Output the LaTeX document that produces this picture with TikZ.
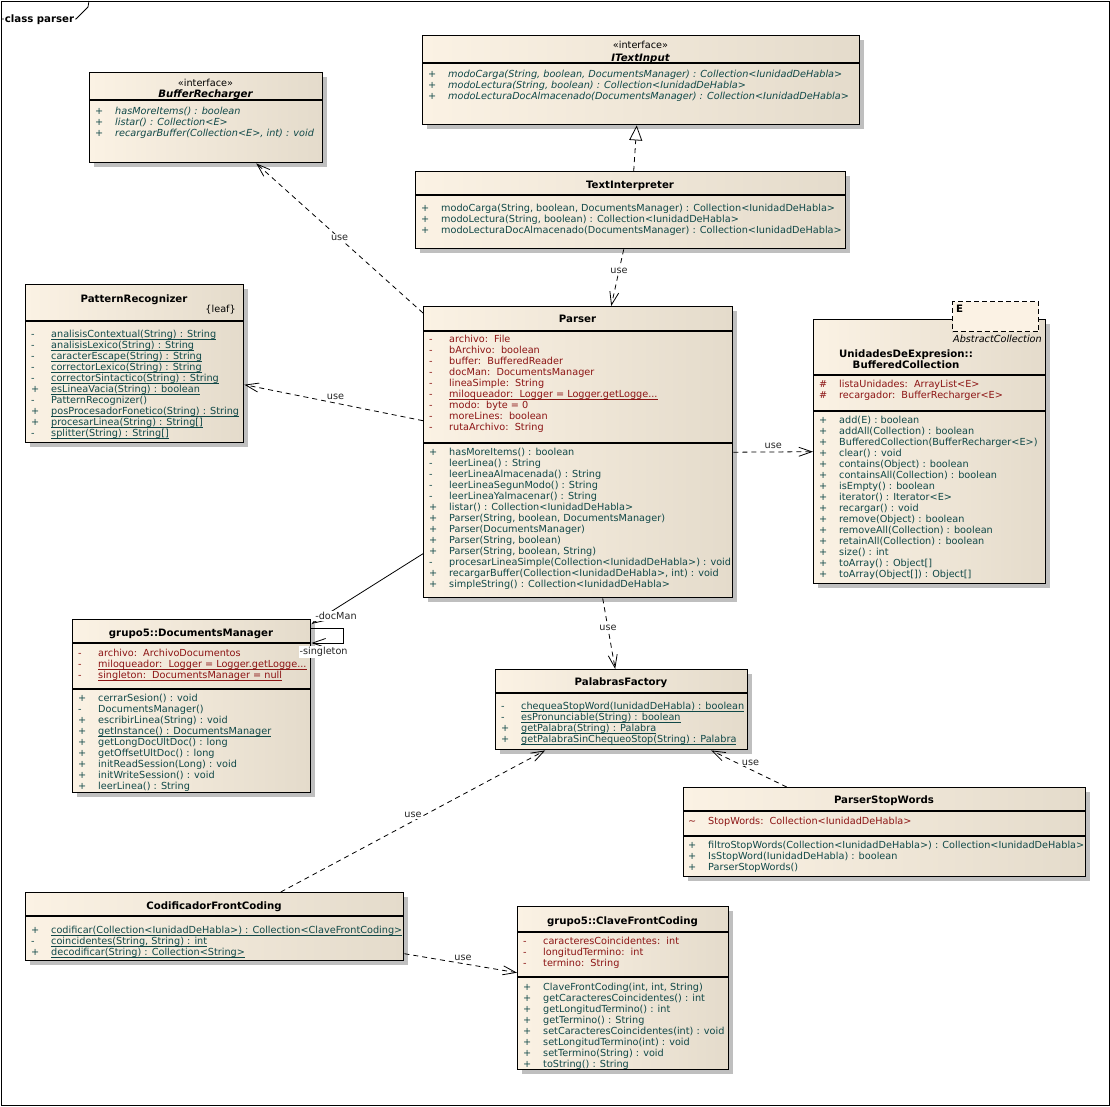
\documentclass[tikz,border=0pt]{standalone}
\usepackage{fontspec}
\setmainfont{DejaVu Sans}
\usetikzlibrary{arrows.meta,shadows}
\definecolor{attrcol}{RGB}{140,20,20}
\definecolor{opcol}{RGB}{16,72,72}
\definecolor{boxleft}{RGB}{251,242,228}
\definecolor{boxright}{RGB}{228,219,203}
\newcommand{\umlfont}{\fontsize{9.7}{11}\selectfont}
\newcommand{\headfont}{\fontsize{10.2}{11}\selectfont}
\newcommand{\vis}[1]{\makebox[20pt][l]{#1}}
\newcommand{\stat}[1]{\sbox0{#1}\rlap{\rule[-1.9pt]{\wd0}{0.7pt}}\usebox0}
\newcommand{\rows}[1]{\begin{tabular}{@{}l@{}}#1\end{tabular}}

\begin{document}
\begin{tikzpicture}[x=1pt, y=-1pt, font=\umlfont] %y grows downwards, like the screenshot
\tikzstyle{classbox} = [draw, line width=1.4pt, anchor=north west, inner sep=0pt, left color=boxleft, right color=boxright, drop shadow={shadow xshift=4pt, shadow yshift=-4pt, opacity=1, fill=black!25}]
\tikzstyle{sep} = [line width=1.2pt]
\tikzstyle{title} = [font=\headfont\bfseries, inner sep=0pt, anchor=base]
\tikzstyle{attrs} = [anchor=north west, inner sep=0pt, text=attrcol]
\tikzstyle{ops} = [anchor=north west, inner sep=0pt, text=opcol]
\tikzstyle{usedep} = [line width=0.8pt, dash pattern=on 5pt off 4pt, -{Straight Barb[length=13pt,width=9pt]}]
\tikzstyle{realize} = [line width=0.8pt, dash pattern=on 5pt off 4pt, -{Triangle[length=15pt,width=13pt,fill=white]}]
\tikzstyle{assoc} = [line width=0.8pt, -{Straight Barb[length=13pt,width=9pt]}]
\tikzstyle{uselbl} = [fill=white, inner sep=1pt, text=black!85]

\useasboundingbox (0,0) rectangle (1110,1106);
\draw[line width=1pt] (1,1) rectangle (1109,1105);
\draw[line width=0.8pt] (1,19) -- (76,19) -- (88,7) -- (89,1);
\node[title, fill=white, inner sep=1pt] (frame) at (39.5,22) {class parser};

% BufferRecharger
\node[classbox, minimum width=233pt, minimum height=90pt] (bufrech) at (89,72) {};
\draw[sep] (bufrech.west |- 0,100) -- (bufrech.east |- 0,100);
\node[title, font=\umlfont] (bufrech-st) at (205.5,86.5) {«interface»};
\node[title, font=\headfont\bfseries\itshape] (bufrech-t) at (205.5,97.5) {BufferRecharger};
\node[ops, font=\umlfont\itshape] (bufrech-ops) at (95,107) {\rows{
\vis{+}hasMoreItems() : boolean\\
\vis{+}listar() : Collection<E>\\
\vis{+}recargarBuffer(Collection<E>, int) : void}};

% ITextInput
\node[classbox, minimum width=437pt, minimum height=89pt] (itext) at (422,35) {};
\draw[sep] (itext.west |- 0,63) -- (itext.east |- 0,63);
\node[title, font=\umlfont] (itext-st) at (640.5,48.5) {«interface»};
\node[title, font=\headfont\bfseries\itshape] (itext-t) at (640.5,61) {ITextInput};
\node[ops, font=\umlfont\itshape] (itext-ops) at (428,70) {\rows{
\vis{+}modoCarga(String, boolean, DocumentsManager) : Collection<IunidadDeHabla>\\
\vis{+}modoLectura(String, boolean) : Collection<IunidadDeHabla>\\
\vis{+}modoLecturaDocAlmacenado(DocumentsManager) : Collection<IunidadDeHabla>}};

% TextInterpreter
\node[classbox, minimum width=430pt, minimum height=77pt] (textint) at (415,171) {};
\draw[sep] (textint.west |- 0,195) -- (textint.east |- 0,195);
\node[title] (textint-t) at (630,188.5) {TextInterpreter};
\node[ops] (textint-ops) at (421,204) {\rows{
\vis{+}modoCarga(String, boolean, DocumentsManager) : Collection<IunidadDeHabla>\\
\vis{+}modoLectura(String, boolean) : Collection<IunidadDeHabla>\\
\vis{+}modoLecturaDocAlmacenado(DocumentsManager) : Collection<IunidadDeHabla>}};

% PatternRecognizer
\node[classbox, minimum width=218pt, minimum height=158pt] (patrec) at (25,284) {};
\draw[sep] (patrec.west |- 0,321) -- (patrec.east |- 0,321);
\node[title] (patrec-t) at (134,302) {PatternRecognizer};
\node[title, font=\umlfont, anchor=base east] (patrec-leaf) at (236,312) {\{leaf\}};
\node[ops] (patrec-ops) at (31,330) {\rows{
\vis{-}\stat{analisisContextual(String) : String}\\
\vis{-}\stat{analisisLexico(String) : String}\\
\vis{-}\stat{caracterEscape(String) : String}\\
\vis{-}\stat{correctorLexico(String) : String}\\
\vis{-}\stat{correctorSintactico(String) : String}\\
\vis{+}\stat{esLineaVacia(String) : boolean}\\
\vis{-}PatternRecognizer()\\
\vis{+}\stat{posProcesadorFonetico(String) : String}\\
\vis{+}\stat{procesarLinea(String) : String[]}\\
\vis{-}\stat{splitter(String) : String[]}}};

% Parser
\node[classbox, minimum width=309pt, minimum height=291pt] (parser) at (423,306) {};
\draw[sep] (parser.west |- 0,331) -- (parser.east |- 0,331);
\draw[sep] (parser.west |- 0,443) -- (parser.east |- 0,443);
\node[title] (parser-t) at (577.5,322.5) {Parser};
\node[attrs] (parser-attrs) at (429,335) {\rows{
\vis{-}archivo:\ \ File\\
\vis{-}bArchivo:\ \ boolean\\
\vis{-}buffer:\ \ BufferedReader\\
\vis{-}docMan:\ \ DocumentsManager\\
\vis{-}lineaSimple:\ \ String\\
\vis{-}\stat{miloqueador:\ \ Logger = Logger.getLogge...}\\
\vis{-}modo:\ \ byte = 0\\
\vis{-}moreLines:\ \ boolean\\
\vis{-}rutaArchivo:\ \ String}};
\node[ops] (parser-ops) at (429,448) {\rows{
\vis{+}hasMoreItems() : boolean\\
\vis{-}leerLinea() : String\\
\vis{-}leerLineaAlmacenada() : String\\
\vis{-}leerLineaSegunModo() : String\\
\vis{-}leerLineaYalmacenar() : String\\
\vis{+}listar() : Collection<IunidadDeHabla>\\
\vis{+}Parser(String, boolean, DocumentsManager)\\
\vis{+}Parser(DocumentsManager)\\
\vis{+}Parser(String, boolean)\\
\vis{+}Parser(String, boolean, String)\\
\vis{-}procesarLineaSimple(Collection<IunidadDeHabla>) : void\\
\vis{+}recargarBuffer(Collection<IunidadDeHabla>, int) : void\\
\vis{+}simpleString() : Collection<IunidadDeHabla>}};

% BufferedCollection with its template parameter
\node[classbox, minimum width=232pt, minimum height=264pt] (bufcol) at (813,319) {};
\node[draw, line width=1.2pt, dash pattern=on 5pt off 3pt, fill=boxleft, anchor=north west, inner sep=0pt, minimum width=86pt, minimum height=30pt] (bufcol-par) at (952,301) {};
\node[title, anchor=base west] (bufcol-e) at (956,312.5) {E};
\draw[sep] (bufcol.west |- 0,375) -- (bufcol.east |- 0,375);
\draw[sep] (bufcol.west |- 0,411) -- (bufcol.east |- 0,411);
\node[title, font=\umlfont\itshape, anchor=base east] (bufcol-sup) at (1042,342.5) {AbstractCollection};
\node[title] (bufcol-t1) at (906,357.5) {UnidadesDeExpresion::};
\node[title] (bufcol-t2) at (906,368.5) {BufferedCollection};
\node[attrs] (bufcol-attrs) at (819,380) {\rows{
\vis{\#}listaUnidades:\ \ ArrayList<E>\\
\vis{\#}recargador:\ \ BufferRecharger<E>}};
\node[ops] (bufcol-ops) at (819,416) {\rows{
\vis{+}add(E) : boolean\\
\vis{+}addAll(Collection) : boolean\\
\vis{+}BufferedCollection(BufferRecharger<E>)\\
\vis{+}clear() : void\\
\vis{+}contains(Object) : boolean\\
\vis{+}containsAll(Collection) : boolean\\
\vis{+}isEmpty() : boolean\\
\vis{+}iterator() : Iterator<E>\\
\vis{+}recargar() : void\\
\vis{+}remove(Object) : boolean\\
\vis{+}removeAll(Collection) : boolean\\
\vis{+}retainAll(Collection) : boolean\\
\vis{+}size() : int\\
\vis{+}toArray() : Object[]\\
\vis{+}toArray(Object[]) : Object[]}};

% DocumentsManager
\node[classbox, minimum width=238pt, minimum height=173pt] (docman) at (72,619) {};
\draw[sep] (docman.west |- 0,643) -- (docman.east |- 0,643);
\draw[sep] (docman.west |- 0,689) -- (docman.east |- 0,689);
\node[title] (docman-t) at (191,636) {grupo5::DocumentsManager};
\node[attrs] (docman-attrs) at (78,649) {\rows{
\vis{-}archivo:\ \ ArchivoDocumentos\\
\vis{-}\stat{miloqueador:\ \ Logger = Logger.getLogge...}\\
\vis{-}\stat{singleton:\ \ DocumentsManager = null}}};
\node[ops] (docman-ops) at (78,694) {\rows{
\vis{+}cerrarSesion() : void\\
\vis{-}DocumentsManager()\\
\vis{+}escribirLinea(String) : void\\
\vis{+}\stat{getInstance() : DocumentsManager}\\
\vis{+}getLongDocUltDoc() : long\\
\vis{+}getOffsetUltDoc() : long\\
\vis{+}initReadSession(Long) : void\\
\vis{+}initWriteSession() : void\\
\vis{+}leerLinea() : String}};

% PalabrasFactory
\node[classbox, minimum width=252pt, minimum height=80pt] (palfac) at (495,669) {};
\draw[sep] (palfac.west |- 0,693) -- (palfac.east |- 0,693);
\node[title] (palfac-t) at (621,685.5) {PalabrasFactory};
\node[ops] (palfac-ops) at (501,702) {\rows{
\vis{-}\stat{chequeaStopWord(IunidadDeHabla) : boolean}\\
\vis{-}\stat{esPronunciable(String) : boolean}\\
\vis{+}\stat{getPalabra(String) : Palabra}\\
\vis{+}\stat{getPalabraSinChequeoStop(String) : Palabra}}};

% ParserStopWords
\node[classbox, minimum width=402pt, minimum height=89pt] (psw) at (683,787) {};
\draw[sep] (psw.west |- 0,811) -- (psw.east |- 0,811);
\draw[sep] (psw.west |- 0,836) -- (psw.east |- 0,836);
\node[title] (psw-t) at (884,803.5) {ParserStopWords};
\node[attrs] (psw-attrs) at (688,817) {\rows{
\vis{\textasciitilde}StopWords:\ \ Collection<IunidadDeHabla>}};
\node[ops] (psw-ops) at (688,841) {\rows{
\vis{+}filtroStopWords(Collection<IunidadDeHabla>) : Collection<IunidadDeHabla>\\
\vis{+}IsStopWord(IunidadDeHabla) : boolean\\
\vis{+}ParserStopWords()}};

% CodificadorFrontCoding
\node[classbox, minimum width=378pt, minimum height=68pt] (codif) at (25,892) {};
\draw[sep] (codif.west |- 0,916) -- (codif.east |- 0,916);
\node[title] (codif-t) at (214,909.5) {CodificadorFrontCoding};
\node[ops] (codif-ops) at (31,926) {\rows{
\vis{+}\stat{codificar(Collection<IunidadDeHabla>) : Collection<ClaveFrontCoding>}\\
\vis{-}\stat{coincidentes(String, String) : int}\\
\vis{+}\stat{decodificar(String) : Collection<String>}}};

% ClaveFrontCoding
\node[classbox, minimum width=211pt, minimum height=163pt] (clave) at (517,906) {};
\draw[sep] (clave.west |- 0,932) -- (clave.east |- 0,932);
\draw[sep] (clave.west |- 0,977) -- (clave.east |- 0,977);
\node[title] (clave-t) at (622.5,924.5) {grupo5::ClaveFrontCoding};
\node[attrs] (clave-attrs) at (523,937) {\rows{
\vis{-}caracteresCoincidentes:\ \ int\\
\vis{-}longitudTermino:\ \ int\\
\vis{-}termino:\ \ String}};
\node[ops] (clave-ops) at (523,983) {\rows{
\vis{+}ClaveFrontCoding(int, int, String)\\
\vis{+}getCaracteresCoincidentes() : int\\
\vis{+}getLongitudTermino() : int\\
\vis{+}getTermino() : String\\
\vis{+}setCaracteresCoincidentes(int) : void\\
\vis{+}setLongitudTermino(int) : void\\
\vis{+}setTermino(String) : void\\
\vis{+}toString() : String}};

% connectors
\draw[realize] ([xshift=3pt]textint.north) -- ([xshift=-4.5pt]itext.south);
\draw[usedep] ([xshift=-7pt]textint.south) -- node[uselbl, pos=0.38] (use1) {use} ([xshift=33pt]parser.north);
\draw[usedep] ([yshift=-7pt]parser.north west) -- node[uselbl, pos=0.5] (use2) {use} ([xshift=50pt]bufrech.south);
\draw[usedep] ([yshift=31.5pt]parser.west) -- node[uselbl, pos=0.49, yshift=6pt] (use3) {use} ([yshift=-21pt]patrec.east);
\draw[usedep] (parser.east) -- node[uselbl, pos=0.5, yshift=6.5pt] (use4) {use} (bufcol.west);
\draw[usedep] ([xshift=24.5pt]parser.south) -- node[uselbl, pos=0.42] (use5) {use} ([xshift=-6.5pt]palfac.north);
\draw[usedep] ([xshift=-98pt]psw.north) -- node[uselbl, pos=0.48, yshift=7pt] (use6) {use} ([xshift=89.5pt]palfac.south);
\draw[usedep] ([xshift=66pt]codif.north) -- node[uselbl, pos=0.5, yshift=6pt] (use7) {use} ([xshift=-76.5pt]palfac.south);
\draw[usedep] ([yshift=-27pt]codif.east) -- node[uselbl, pos=0.52, yshift=6pt] (use8) {use} ([yshift=15.5pt]clave.west);
\draw[assoc] ([yshift=-101.5pt]parser.west) -- node[uselbl, pos=0.78, yshift=-7.5pt] (role1) {-docMan} ([yshift=-5pt]docman.north east);
\draw[assoc] ([yshift=-9pt]docman.north east) -- ++(32,0) -- ++(0,15) -- node[uselbl, pos=0.62, yshift=-9pt] (role2) {-singleton} ([yshift=-24pt]docman.north east);
\end{tikzpicture}
\end{document}
